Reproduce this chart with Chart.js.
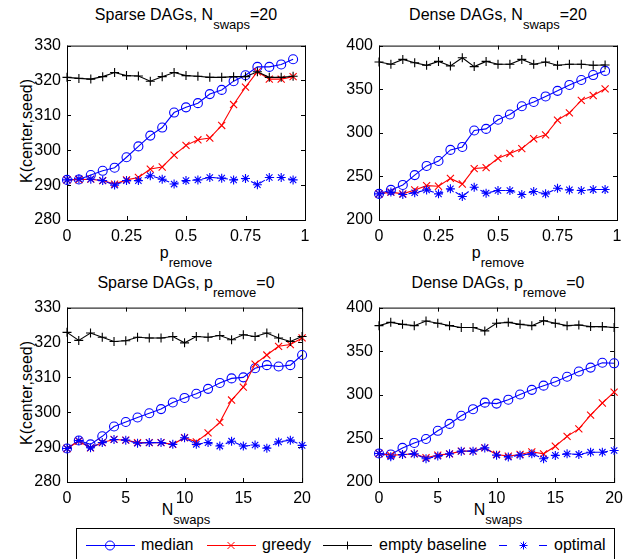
<!DOCTYPE html>
<html>
<head>
<meta charset="utf-8">
<script src="https://cdn.jsdelivr.net/npm/chart.js@4.4.1/dist/chart.umd.min.js"></script>
<style>
  html, body { margin: 0; padding: 0; background: #fff; overflow: hidden; }
  body { width: 624px; height: 559px; position: relative; font-family: "Liberation Sans", Arial, sans-serif; color: #000; }
  .panel { position: absolute; }
  .lbl { position: absolute; transform: translateX(-50%); white-space: nowrap; font-size: 16px; line-height: 16px; }
  .lbl .s { font-size: 13px; vertical-align: -9px; line-height: 0; }
  .ylbl { position: absolute; white-space: nowrap; font-size: 16px; line-height: 16px; transform: translate(-50%, -50%) rotate(-90deg); }
  #legend { position: absolute; left: 76px; top: 528px; width: 537px; height: 40px; border: 1px solid #000; background: #fff; }
  #legend svg { position: absolute; left: 0; top: 0; }
  #legend span { position: absolute; top: 8px; font-size: 16px; line-height: 16px; white-space: nowrap; }
</style>
</head>
<body>

<div class="lbl" style="left:186px; top:7px">Sparse DAGs, N<span class="s">swaps</span>=20</div>
<div class="lbl" style="left:498px; top:7px">Dense DAGs, N<span class="s">swaps</span>=20</div>
<div class="lbl" style="left:186px; top:245px">p<span class="s">remove</span></div>
<div class="lbl" style="left:498px; top:245px">p<span class="s">remove</span></div>
<div class="lbl" style="left:186px; top:275px">Sparse DAGs, p<span class="s">remove</span>=0</div>
<div class="lbl" style="left:498px; top:275px">Dense DAGs, p<span class="s">remove</span>=0</div>
<div class="lbl" style="left:186px; top:502px">N<span class="s">swaps</span></div>
<div class="lbl" style="left:498px; top:502px">N<span class="s">swaps</span></div>
<div class="ylbl" style="left:27px; top:131px">K(center,seed)</div>
<div class="ylbl" style="left:27px; top:393px">K(center,seed)</div>

<div class="panel" style="left:0; top:30px"><canvas id="sparseP" width="318" height="215"></canvas></div>
<div class="panel" style="left:312px; top:30px"><canvas id="denseP" width="318" height="215"></canvas></div>
<div class="panel" style="left:0; top:292px"><canvas id="sparseN" width="318" height="215"></canvas></div>
<div class="panel" style="left:312px; top:292px"><canvas id="denseN" width="318" height="215"></canvas></div>

<div id="legend">
  <svg width="537" height="40">
    <g fill="none" stroke-width="1">
      <line x1="9" y1="16.5" x2="58" y2="16.5" stroke="#0000ff"/>
      <circle cx="33" cy="16.5" r="4.5" stroke="#0000ff"/>
      <line x1="130" y1="16.5" x2="179" y2="16.5" stroke="#ff0000"/>
      <path d="M150.5 13 L157.5 20 M150.5 20 L157.5 13" stroke="#ff0000"/>
      <line x1="246" y1="16.5" x2="295" y2="16.5" stroke="#000"/>
      <path d="M270.5 12.5 L270.5 20.5" stroke="#000"/>
      <path d="M422 16.5 L430 16.5 M462 16.5 L470 16.5" stroke="#0000ff"/>
      <path d="M446.5 12.5 L446.5 20.5 M442.5 16.5 L450.5 16.5 M443.7 13.7 L449.3 19.3 M443.7 19.3 L449.3 13.7" stroke="#0000ff"/>
    </g>
  </svg>
  <span style="left:64px">median</span>
  <span style="left:185px">greedy</span>
  <span style="left:302px">empty baseline</span>
  <span style="left:477px">optimal</span>
</div>

<script>
// x values
const pRemove = [0, 0.05, 0.1, 0.15, 0.2, 0.25, 0.3, 0.35, 0.4, 0.45, 0.5, 0.55, 0.6, 0.65, 0.7, 0.75, 0.8, 0.85, 0.9, 0.95];
const nSwaps = [0, 1, 2, 3, 4, 5, 6, 7, 8, 9, 10, 11, 12, 13, 14, 15, 16, 17, 18, 19, 20];

// Sparse DAGs, N_swaps = 20
const sparseP_median = [291.5, 291.6, 292.9, 294.1, 295.0, 298.0, 301.1, 304.2, 306.5, 310.8, 312.3, 313.5, 316.1, 317.3, 319.8, 321.5, 323.9, 323.9, 324.6, 326.1];
const sparseP_greedy = [291.5, 291.6, 291.7, 291.3, 290.3, 291.5, 292.2, 294.6, 295.2, 298.6, 301.4, 303.0, 303.5, 307.1, 313.1, 318.1, 322.5, 320.4, 320.4, 321.1];
const sparseP_empty = [320.9, 320.6, 320.4, 321.1, 322.3, 321.4, 321.3, 319.8, 321.1, 322.3, 321.4, 321.2, 320.9, 320.9, 321.1, 321.1, 322.5, 320.9, 320.9, 321.2];
const sparseP_optimal = [291.5, 291.8, 291.7, 291.3, 290.0, 291.3, 291.3, 292.7, 291.7, 290.3, 291.3, 291.5, 292.2, 292.0, 291.5, 291.9, 290.1, 292.2, 292.2, 291.5];

// Dense DAGs, N_swaps = 20
const denseP_median = [230.0, 234.5, 240.2, 251.5, 262.0, 267.6, 280.4, 283.8, 302.6, 304.5, 315.0, 321.0, 330.4, 335.3, 341.7, 348.1, 354.9, 360.5, 366.2, 371.0];
const denseP_greedy = [230.0, 232.0, 230.0, 234.5, 239.4, 238.7, 247.7, 241.3, 259.0, 260.1, 270.7, 276.3, 281.9, 293.2, 297.7, 314.6, 322.9, 337.2, 342.8, 350.4];
const denseP_empty = [381.2, 378.6, 384.2, 380.4, 377.4, 381.9, 376.7, 386.1, 375.9, 381.9, 378.6, 378.6, 384.2, 378.6, 381.2, 377.4, 378.6, 378.6, 377.4, 377.8];
const denseP_optimal = [230.0, 232.0, 229.3, 231.2, 234.5, 230.0, 235.7, 227.0, 237.6, 230.8, 233.8, 233.8, 229.3, 232.7, 230.0, 236.4, 234.5, 233.8, 234.9, 234.9];

// Sparse DAGs, p_remove = 0
const sparseN_median = [289.6, 291.9, 290.8, 293.1, 295.9, 297.2, 298.5, 299.7, 300.9, 302.8, 304.1, 305.3, 306.7, 308.4, 309.7, 310.0, 312.6, 313.5, 313.1, 313.5, 316.4];
const sparseN_greedy = [289.6, 291.7, 289.8, 291.3, 292.2, 292.0, 291.3, 291.3, 291.3, 290.8, 292.7, 291.5, 294.1, 297.1, 303.5, 307.2, 313.8, 316.4, 318.9, 319.4, 321.3];
const sparseN_empty = [322.9, 320.6, 322.7, 321.5, 320.3, 320.5, 321.5, 321.3, 321.3, 321.7, 319.9, 321.7, 321.5, 322.0, 320.8, 322.2, 321.7, 322.7, 321.3, 320.3, 321.7];
const sparseN_optimal = [289.6, 291.9, 289.8, 291.3, 292.2, 292.0, 291.1, 291.3, 291.3, 290.8, 292.7, 290.8, 291.3, 290.3, 291.7, 290.3, 290.6, 289.7, 291.5, 292.0, 290.5];

// Dense DAGs, p_remove = 0
const denseN_median = [232.7, 231.6, 239.1, 244.8, 249.3, 258.7, 266.6, 275.9, 283.5, 291.0, 289.9, 294.4, 300.4, 305.7, 310.5, 315.0, 320.7, 326.7, 331.2, 336.8, 336.1];
const denseN_greedy = [232.7, 230.5, 231.6, 232.3, 227.8, 230.8, 232.3, 235.4, 235.4, 239.1, 231.6, 229.7, 231.6, 234.6, 232.3, 241.0, 252.3, 260.9, 276.7, 290.6, 303.0];
const denseN_empty = [379.3, 383.1, 380.8, 379.3, 384.6, 382.0, 379.3, 377.1, 377.1, 373.3, 382.0, 383.1, 380.8, 379.3, 385.0, 382.0, 379.3, 380.1, 378.2, 378.2, 377.1];
const denseN_optimal = [232.7, 229.0, 231.6, 232.3, 226.7, 229.7, 232.3, 235.4, 235.4, 239.1, 230.8, 228.6, 230.8, 232.3, 226.7, 230.5, 232.3, 231.6, 234.2, 234.2, 236.1];

const FONT = { family: '"Liberation Sans", Arial, sans-serif', size: 16 };

// axes box with inward ticks, matlab style
const boxPlugin = {
  id: "box",
  beforeDatasetsDraw(chart) {
    const { ctx, chartArea: a, scales } = chart;
    ctx.save();
    ctx.strokeStyle = "#000";
    ctx.lineWidth = 1;
    ctx.strokeRect(a.left + 0.5, a.top + 0.5, a.right - a.left, a.bottom - a.top);
    ctx.beginPath();
    scales.x.ticks.forEach(t => {
      const px = Math.round(scales.x.getPixelForValue(t.value)) + 0.5;
      ctx.moveTo(px, a.bottom); ctx.lineTo(px, a.bottom - 4);
      ctx.moveTo(px, a.top); ctx.lineTo(px, a.top + 4);
    });
    scales.y.ticks.forEach(t => {
      const py = Math.round(scales.y.getPixelForValue(t.value)) + 0.5;
      ctx.moveTo(a.left, py); ctx.lineTo(a.left + 4, py);
      ctx.moveTo(a.right, py); ctx.lineTo(a.right - 4, py);
    });
    ctx.stroke();
    ctx.restore();
  }
};

function serie(xs, ys, color, style, radius, dash, order) {
  return {
    data: xs.map((x, i) => ({ x: x, y: ys[i] })),
    borderColor: color,
    borderWidth: 1.1,
    borderDash: dash,
    backgroundColor: "rgba(0,0,0,0)",
    pointStyle: style,
    pointRadius: radius,
    pointBorderColor: color,
    pointBorderWidth: 1.1,
    pointBackgroundColor: "rgba(0,0,0,0)",
    tension: 0,
    clip: false,
    order: order
  };
}

function panel(id, xs, median, greedy, empty, optimal, xMax, xStep, yMin, yMax, yStep) {
  new Chart(document.getElementById(id), {
    type: "line",
    data: {
      datasets: [
        serie(xs, median, "#0000ff", "circle", 4.5, [], 4),
        serie(xs, greedy, "#ff0000", "crossRot", 5, [], 3),
        serie(xs, empty, "#000000", "cross", 4.5, [], 2),
        serie(xs, optimal, "#0000ff", "star", 4.5, [6, 4], 1)
      ]
    },
    options: {
      responsive: false,
      animation: false,
      layout: { padding: { top: 12, right: 13, left: 0, bottom: 0 } },
      plugins: { legend: { display: false }, tooltip: { enabled: false } },
      scales: {
        x: {
          type: "linear", min: 0, max: xMax,
          ticks: {
            stepSize: xStep, padding: 7, font: FONT, color: "#000", maxRotation: 0, autoSkip: false,
            callback: v => String(Math.round(v * 100) / 100)
          },
          grid: { display: false, drawTicks: false },
          border: { display: false },
          afterFit(s) { s.height = 25; }
        },
        y: {
          min: yMin, max: yMax,
          ticks: { stepSize: yStep, padding: 6, font: FONT, color: "#000" },
          grid: { display: false, drawTicks: false },
          border: { display: false },
          afterFit(s) { s.width = 67; }
        }
      }
    },
    plugins: [boxPlugin]
  });
}

panel("sparseP", pRemove, sparseP_median, sparseP_greedy, sparseP_empty, sparseP_optimal, 1, 0.25, 280, 330, 10);
panel("denseP", pRemove, denseP_median, denseP_greedy, denseP_empty, denseP_optimal, 1, 0.25, 200, 400, 50);
panel("sparseN", nSwaps, sparseN_median, sparseN_greedy, sparseN_empty, sparseN_optimal, 20, 5, 280, 330, 10);
panel("denseN", nSwaps, denseN_median, denseN_greedy, denseN_empty, denseN_optimal, 20, 5, 200, 400, 50);
</script>
</body>
</html>
